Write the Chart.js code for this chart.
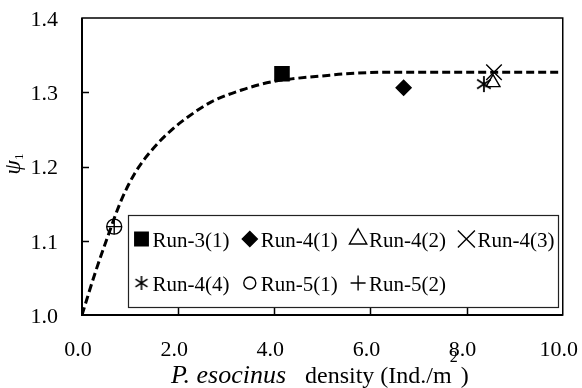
<!DOCTYPE html>
<html>
<head>
<meta charset="utf-8">
<script src="https://cdn.jsdelivr.net/npm/chart.js@4.4.0/dist/chart.umd.min.js"></script>
<style>
  html, body { margin: 0; padding: 0; background: #fff; }
</style>
</head>
<body>
<canvas id="c" width="582" height="388"></canvas>
<script>
// fitted curve
const curveX = [0, 0.27, 0.51, 0.82, 1.10, 1.45, 1.86, 2.21, 2.69, 3.32, 3.94, 4.36, 5.0, 5.5, 6.5, 8.0, 10.0];
const curveY = [1.0, 1.056, 1.101, 1.155, 1.191, 1.222, 1.249, 1.267, 1.287, 1.303, 1.314, 1.318, 1.322, 1.325, 1.327, 1.327, 1.327];

// measured runs
const runLabels = ["Run-3(1)", "Run-4(1)", "Run-4(2)", "Run-4(3)", "Run-4(4)", "Run-5(1)", "Run-5(2)"];
const runX = [4.16, 6.69, 8.55, 8.57, 8.36, 0.67, 0.67];
const runY = [1.325, 1.306, 1.313, 1.327, 1.311, 1.119, 1.119];

const xTicks = [0, 2, 4, 6, 8, 10];
const yTicks = [1.0, 1.1, 1.2, 1.3, 1.4];

const SERIF = "'Liberation Serif', 'Times New Roman', serif";

// six-armed asterisk marker
function asterisk(size, lw) {
  const cv = document.createElement("canvas");
  cv.width = size; cv.height = size;
  const g = cv.getContext("2d");
  const h = size / 2, r = size / 2 - 1;
  g.strokeStyle = "#000";
  g.lineWidth = lw;
  g.beginPath();
  g.moveTo(h, h - r); g.lineTo(h, h + r);
  const d = r * 0.85;
  g.moveTo(h - d, h - d * 0.65); g.lineTo(h + d, h + d * 0.65);
  g.moveTo(h - d, h + d * 0.65); g.lineTo(h + d, h - d * 0.65);
  g.stroke();
  return cv;
}
const star6 = asterisk(18, 1.8);
const star6Small = asterisk(16, 1.6);

// marker styles per run: [pointStyle, radius, filled, legend style, legend radius]
const runStyles = [
  ["rect", 10, true, "rect", 9.5],
  ["rectRot", 7.5, true, "rectRot", 7.5],
  ["triangle", 8, false, "triangle", 10],
  ["crossRot", 11, false, "crossRot", 12],
  [star6, 9, false, star6Small, 8],
  ["circle", 7.5, false, "circle", 6],
  ["cross", 7.5, false, "cross", 7.5]
];

const runSets = runLabels.map((lab, i) => ({
  label: lab,
  data: [{ x: runX[i], y: runY[i] }],
  pointStyle: runStyles[i][0],
  pointRadius: runStyles[i][1],
  pointHoverRadius: runStyles[i][1],
  pointBackgroundColor: runStyles[i][2] ? "#000" : "rgba(0,0,0,0)",
  pointBorderColor: "#000",
  pointBorderWidth: 1.4,
  showLine: false
}));

const curveSet = {
  label: "fit",
  data: curveX.map((x, i) => ({ x: x, y: curveY[i] })),
  showLine: true,
  borderColor: "#000",
  borderWidth: 3,
  borderDash: [8, 4],
  pointRadius: 0,
  cubicInterpolationMode: "monotone",
  fill: false
};

// frame and inward tick marks
const frame = {
  id: "frame",
  afterDatasetsDraw(chart) {
    const { ctx, chartArea: a, scales } = chart;
    ctx.save();
    ctx.strokeStyle = "#000";
    ctx.lineWidth = 1.5;
    ctx.strokeRect(a.left, a.top, a.right - a.left, a.bottom - a.top);
    ctx.lineWidth = 2;
    ctx.beginPath();
    ctx.moveTo(a.left, a.top); ctx.lineTo(a.left, a.bottom); ctx.lineTo(a.right, a.bottom);
    ctx.stroke();
    ctx.lineWidth = 1.5;
    ctx.beginPath();
    scales.x.ticks.forEach(t => {
      if (t.value <= 0 || t.value >= 10) return;
      const px = Math.round(scales.x.getPixelForValue(t.value)) + 0.5;
      ctx.moveTo(px, a.bottom); ctx.lineTo(px, a.bottom - 8);
    });
    scales.y.ticks.forEach(t => {
      if (t.value <= 1.0 || t.value >= 1.4) return;
      const py = Math.round(scales.y.getPixelForValue(t.value)) + 0.5;
      ctx.moveTo(a.left, py); ctx.lineTo(a.left + 7, py);
    });
    ctx.stroke();
    ctx.restore();
  }
};

// legend box inside the plot
const legendBox = {
  id: "legendBox",
  afterDraw(chart) {
    const { ctx } = chart;
    const box = { l: 128, t: 215, r: 558, b: 307 };
    ctx.save();
    ctx.fillStyle = "#fff";
    ctx.fillRect(box.l, box.t, box.r - box.l, box.b - box.t);
    ctx.strokeStyle = "#222";
    ctx.lineWidth = 1.2;
    ctx.strokeRect(box.l + 0.5, box.t + 0.5, box.r - box.l, box.b - box.t);
    ctx.font = "21px " + SERIF;
    ctx.fillStyle = "#000";
    ctx.textBaseline = "alphabetic";
    const colW = 108.3;
    runLabels.forEach((lab, i) => {
      const row = i < 4 ? 0 : 1;
      const col = row === 0 ? i : i - 4;
      const cx = 141.5 + col * colW;
      const cy = row === 0 ? 239 : 283;
      const st = runStyles[i];
      ctx.save();
      ctx.fillStyle = st[2] ? "#000" : "rgba(0,0,0,0)";
      ctx.strokeStyle = "#000";
      ctx.lineWidth = 1.4;
      Chart.helpers.drawPoint(ctx, { pointStyle: st[3], radius: st[4], rotation: 0, borderWidth: 1.4 }, cx, cy);
      ctx.restore();
      ctx.fillText(lab, cx + 11, row === 0 ? 247 : 291);
    });
    ctx.restore();
  }
};

// axis titles with mixed italic
const titles = {
  id: "titles",
  afterDraw(chart) {
    const { ctx } = chart;
    ctx.save();
    ctx.fillStyle = "#000";
    ctx.textBaseline = "alphabetic";
    const base = 383;
    ctx.font = "italic 26px " + SERIF;
    ctx.fillText("P. esocinus", 171, base);
    ctx.font = "24px " + SERIF;
    ctx.fillText("density (Ind./m", 305, base);
    const mEnd = 305 + ctx.measureText("density (Ind./m").width;
    ctx.font = "16px " + SERIF;
    ctx.fillText("2", mEnd - 2, base - 21);
    ctx.font = "24px " + SERIF;
    ctx.fillText(")", mEnd + 9, base);

    ctx.translate(20, 164);
    ctx.rotate(-Math.PI / 2);
    ctx.font = "italic 23px " + SERIF;
    const w1 = ctx.measureText("\u03c8").width;
    ctx.font = "13px " + SERIF;
    const w2 = ctx.measureText("1").width;
    const sx = -(w1 + w2) / 2;
    ctx.font = "italic 23px " + SERIF;
    ctx.fillText("\u03c8", sx, 0);
    ctx.font = "13px " + SERIF;
    ctx.fillText("1", sx + w1, 3);
    ctx.restore();
  }
};

new Chart(document.getElementById("c"), {
  type: "scatter",
  data: { datasets: [curveSet, ...runSets] },
  options: {
    responsive: false,
    animation: false,
    events: [],
    layout: { padding: { top: 18, right: 19, left: 0, bottom: 0 } },
    plugins: { legend: { display: false }, tooltip: { enabled: false }, title: { display: false } },
    scales: {
      x: {
        type: "linear",
        min: 0,
        max: 10,
        afterBuildTicks: s => { s.ticks = xTicks.map(v => ({ value: v })); },
        afterFit: s => { s.height = 73; },
        ticks: {
          color: "#000",
          font: { family: SERIF, size: 22 },
          padding: 0,
          labelOffset: -4,
          maxRotation: 0,
          callback: v => v.toFixed(1)
        },
        grid: { display: false, drawTicks: true, tickLength: 22 },
        border: { display: false }
      },
      y: {
        min: 1.0,
        max: 1.4,
        afterBuildTicks: s => { s.ticks = yTicks.map(v => ({ value: v })); },
        afterFit: s => { s.width = 82; },
        ticks: {
          color: "#000",
          font: { family: SERIF, size: 22 },
          padding: 0,
          labelOffset: 2,
          callback: v => v.toFixed(1)
        },
        grid: { display: false, drawTicks: true, tickLength: 24 },
        border: { display: false }
      }
    }
  },
  plugins: [frame, legendBox, titles]
});
</script>
</body>
</html>
